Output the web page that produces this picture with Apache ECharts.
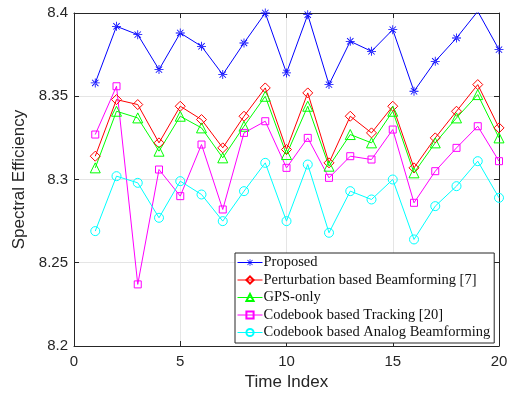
<!DOCTYPE html>
<html>
<head>
<meta charset="utf-8">
<script src="https://cdn.jsdelivr.net/npm/echarts@6/dist/echarts.min.js"></script>
<style>
  html, body { margin: 0; padding: 0; background: #fff; }
  #chart { width: 514px; height: 398px; }
</style>
</head>
<body>
<div id="chart"></div>
<script>
// Time index axis
const timeIndex = [1, 2, 3, 4, 5, 6, 7, 8, 9, 10, 11, 12, 13, 14, 15, 16, 17, 18, 19, 20];

// Spectral efficiency per method
const proposed = [8.358, 8.392, 8.387, 8.366, 8.388, 8.380, 8.363, 8.382, 8.400, 8.364,
                  8.399, 8.357, 8.383, 8.377, 8.390, 8.353, 8.371, 8.385, 8.401, 8.378];
const perturbation = [8.314, 8.348, 8.345, 8.322, 8.344, 8.336, 8.319, 8.338, 8.355, 8.318,
                      8.352, 8.310, 8.338, 8.328, 8.344, 8.307, 8.325, 8.341, 8.357, 8.331];
const gpsOnly = [8.307, 8.341, 8.337, 8.317, 8.338, 8.331, 8.313, 8.332, 8.350, 8.315,
                 8.344, 8.308, 8.327, 8.322, 8.341, 8.304, 8.322, 8.337, 8.351, 8.325];
const codebookTracking = [8.327, 8.356, 8.237, 8.306, 8.290, 8.321, 8.282, 8.328, 8.335, 8.307,
                          8.325, 8.301, 8.314, 8.312, 8.330, 8.286, 8.305, 8.319, 8.332, 8.311];
const codebookAnalog = [8.269, 8.302, 8.298, 8.277, 8.299, 8.291, 8.275, 8.293, 8.310, 8.275,
                        8.309, 8.268, 8.293, 8.288, 8.300, 8.264, 8.284, 8.296, 8.311, 8.289];

const seriesNames = [
  'Proposed',
  'Perturbation based Beamforming [7]',
  'GPS-only',
  'Codebook based Tracking [20]',
  'Codebook based Analog Beamforming'
];

// Eight-armed asterisk marker
const asterisk = 'path://M-1,-0.09L1,-0.09L1,0.09L-1,0.09Z' +
  'M-0.09,-1L0.09,-1L0.09,1L-0.09,1Z' +
  'M0.643,0.771L0.771,0.643L-0.643,-0.771L-0.771,-0.643Z' +
  'M0.771,-0.643L0.643,-0.771L-0.771,0.643L-0.643,0.771Z';

function pairs(values) {
  return timeIndex.map((t, i) => [t, values[i]]);
}

function lineSeries(name, values, color, symbol, size, filled) {
  return {
    name: name,
    type: 'line',
    data: pairs(values),
    symbol: symbol,
    symbolSize: size,
    showAllSymbol: true,
    lineStyle: { color: color, width: 1 },
    itemStyle: {
      color: filled ? color : 'rgba(255,255,255,0)',
      borderColor: color,
      borderWidth: filled ? 0 : 1
    },
    emphasis: { disabled: true },
    z: 3
  };
}

const axisColor = '#262626';
const tickFont = { fontFamily: 'Liberation Sans, Arial, sans-serif', fontSize: 15, color: axisColor };

const chart = echarts.init(document.getElementById('chart'), null, { renderer: 'canvas' });
chart.setOption({
  animation: false,
  backgroundColor: '#fff',
  grid: { left: 74, right: 15, top: 13, bottom: 52, containLabel: false },
  legend: {
    orient: 'vertical',
    left: 235,
    top: 253,
    padding: [2, 4, 3, 2],
    itemWidth: 25,
    itemHeight: 9,
    itemGap: 2.5,
    backgroundColor: '#fff',
    borderColor: axisColor,
    borderWidth: 1,
    borderRadius: 0,
    lineStyle: { width: 1 },
    textStyle: {
      fontFamily: 'Liberation Serif, DejaVu Serif, serif', fontSize: 14.5,
      color: '#111', padding: [0, 0, 0, -4]
    },
    data: seriesNames
  },
  xAxis: [{
    type: 'value', min: 0, max: 20, interval: 5,
    name: 'Time Index', nameLocation: 'middle', nameGap: 27,
    nameTextStyle: { fontFamily: 'Liberation Sans, Arial, sans-serif', fontSize: 17, color: axisColor },
    axisLine: { show: true, onZero: false, lineStyle: { color: axisColor, width: 1 } },
    axisTick: { show: true, inside: true, length: 5, lineStyle: { color: axisColor } },
    axisLabel: Object.assign({ margin: 8 }, tickFont),
    splitLine: { show: true, lineStyle: { color: '#e5e5e5', width: 1 } }
  }, {
    type: 'value', min: 0, max: 20, interval: 5, position: 'top',
    axisLine: { show: true, onZero: false, lineStyle: { color: axisColor, width: 1 } },
    axisTick: { show: true, inside: true, length: 5, lineStyle: { color: axisColor } },
    axisLabel: { show: false },
    splitLine: { show: false }
  }],
  yAxis: [{
    type: 'value', min: 8.2, max: 8.4, interval: 0.05,
    name: 'Spectral Efficiency', nameLocation: 'middle', nameGap: 44,
    nameTextStyle: { fontFamily: 'Liberation Sans, Arial, sans-serif', fontSize: 17, color: axisColor },
    axisLine: { show: true, onZero: false, lineStyle: { color: axisColor, width: 1 } },
    axisTick: { show: true, inside: true, length: 5, lineStyle: { color: axisColor } },
    axisLabel: Object.assign({ margin: 6, formatter: v => String(+v.toFixed(2)) }, tickFont),
    splitLine: { show: true, lineStyle: { color: '#e5e5e5', width: 1 } }
  }, {
    type: 'value', min: 8.2, max: 8.4, interval: 0.05, position: 'right',
    axisLine: { show: true, onZero: false, lineStyle: { color: axisColor, width: 1 } },
    axisTick: { show: true, inside: true, length: 5, lineStyle: { color: axisColor } },
    axisLabel: { show: false },
    splitLine: { show: false }
  }],
  series: [
    lineSeries(seriesNames[0], proposed, '#0000ff', asterisk, 9, true),
    lineSeries(seriesNames[1], perturbation, '#ff0000', 'diamond', 10, false),
    lineSeries(seriesNames[2], gpsOnly, '#00ff00', 'triangle', 10, false),
    lineSeries(seriesNames[3], codebookTracking, '#ff00ff', 'rect', 7, false),
    lineSeries(seriesNames[4], codebookAnalog, '#00ffff', 'circle', 9, false)
  ]
});
</script>
</body>
</html>
